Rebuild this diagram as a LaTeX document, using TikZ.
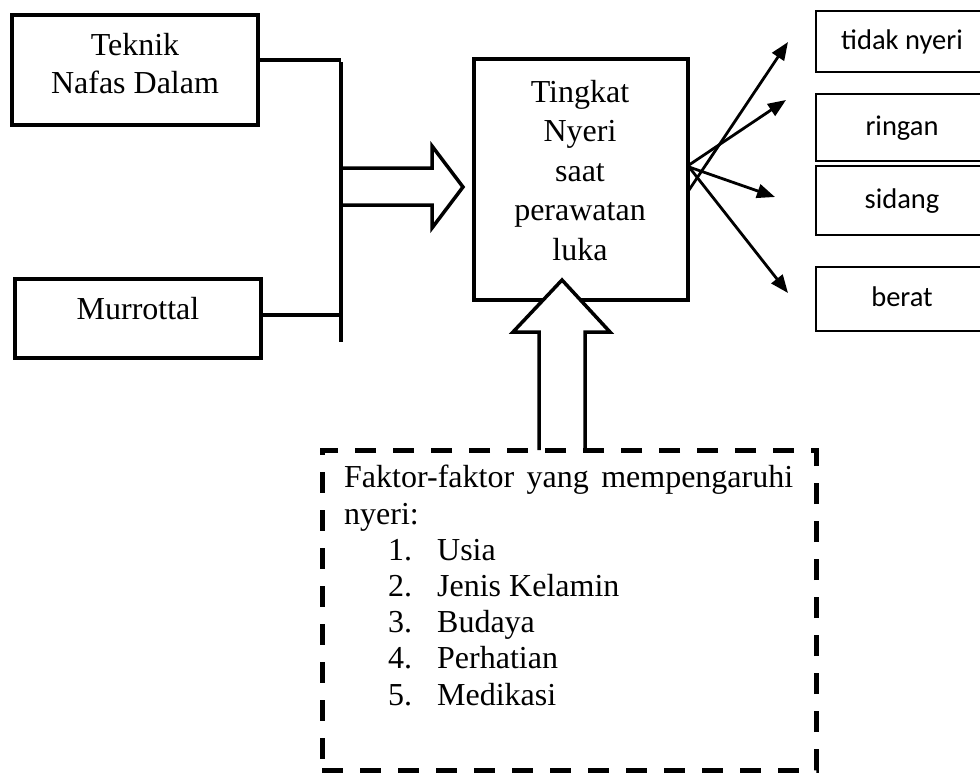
\documentclass[tikz,border=0pt]{standalone}
\usepackage{fontspec}
\setmainfont{Liberation Serif}
\newfontfamily\calibri{Carlito}
\usetikzlibrary{arrows.meta}
\begin{document}
\begin{tikzpicture}[x=1pt,y=-1pt,
  thickbox/.style={draw, line width=4pt, inner sep=0pt},
  thinbox/.style={draw, line width=2pt, inner sep=0pt, font=\calibri\fontsize{28.5}{34}\selectfont, text height=19pt, text depth=4pt},
  serif/.style={inner sep=0pt, font=\fontsize{32}{38}\selectfont},
  bar/.style={line width=4pt},
  blockarrow/.style={line width=3.5pt, fill=white, line join=miter},
  thinarrow/.style={line width=2.8pt, -{Triangle[length=18pt,width=14pt]}},
  dashbox/.style={draw, line width=5pt, dash pattern=on 21pt off 17pt, inner sep=0pt}]
\path[use as bounding box] (0,0) rectangle (980,779);
\clip (0,0) rectangle (980,779);

% left boxes
\node[thickbox, minimum width=246pt, minimum height=110pt] (teknik) at (135,70) {};
\node[serif, anchor=base] (teknikA) at (135,55) {Teknik};
\node[serif, anchor=base] (teknikB) at (135,93) {Nafas Dalam};
\node[thickbox, minimum width=246pt, minimum height=79pt] (murrottal) at (138,318.5) {};
\node[serif, anchor=base] (murrottalT) at (138,319) {Murrottal};

% right block arrow
\draw[blockarrow] (341,168) -- (432,168) -- (432,146) -- (463,187) -- (432,228) -- (432,205) -- (341,205);

% joining bar
\coordinate (j1) at (341,60);
\coordinate (j2) at (341,315);
\coordinate (barTop) at (341,62);
\coordinate (barBot) at (341,342);
\draw[bar] (teknik.east |- j1) -- (j1);
\draw[bar] (murrottal.east |- j2) -- (j2);
\draw[bar] (barTop) -- (barBot);

% centre box
\node[thickbox, minimum width=214pt, minimum height=241pt] (tingkat) at (581,179.5) {};
\node[serif, anchor=base, align=center, font=\fontsize{32}{39.5}\selectfont] (tingkatT) at (580,260) {Tingkat\\Nyeri\\saat\\perawatan\\luka};

% up block arrow
\draw[blockarrow] (539,450) -- (539,332) -- (513,332) -- (562,280) -- (610,332) -- (585,332) -- (585,450);

% right boxes
\node[thinbox, minimum width=172pt, minimum height=61pt] (tidak) at (902,41.5) {tidak nyeri};
\node[thinbox, minimum width=172pt, minimum height=67pt] (ringan) at (902,127.5) {ringan};
\node[thinbox, minimum width=172pt, minimum height=69pt] (sidang) at (902,200.5) {sidang};
\node[thinbox, minimum width=172pt, minimum height=64pt] (berat) at (902,299) {berat};

% arrows
\coordinate (s1) at (689,190); \coordinate (e1) at (788,42);
\coordinate (s2) at (689,165); \coordinate (e2) at (786,100);
\coordinate (s3) at (689,167); \coordinate (e3) at (775,197);
\coordinate (s4) at (689,167); \coordinate (e4) at (788,293);
\draw[thinarrow] (s1) -- (e1);
\draw[thinarrow] (s2) -- (e2);
\draw[thinarrow] (s3) -- (e3);
\draw[thinarrow] (s4) -- (e4);

% dashed box
\node[dashbox, minimum width=494pt, minimum height=320pt] (faktor) at (569,610) {};
\node[serif, anchor=base west, align=left, font=\fontsize{32}{36.2}\selectfont] (faktorT) at (344,705)
  {\makebox[449pt][s]{Faktor-faktor yang mempengaruhi}\\
   nyeri:\\
   \hspace*{44pt}\makebox[49pt][l]{1.}Usia\\
   \hspace*{44pt}\makebox[49pt][l]{2.}Jenis Kelamin\\
   \hspace*{44pt}\makebox[49pt][l]{3.}Budaya\\
   \hspace*{44pt}\makebox[49pt][l]{4.}Perhatian\\
   \hspace*{44pt}\makebox[49pt][l]{5.}Medikasi};
\end{tikzpicture}
\end{document}
